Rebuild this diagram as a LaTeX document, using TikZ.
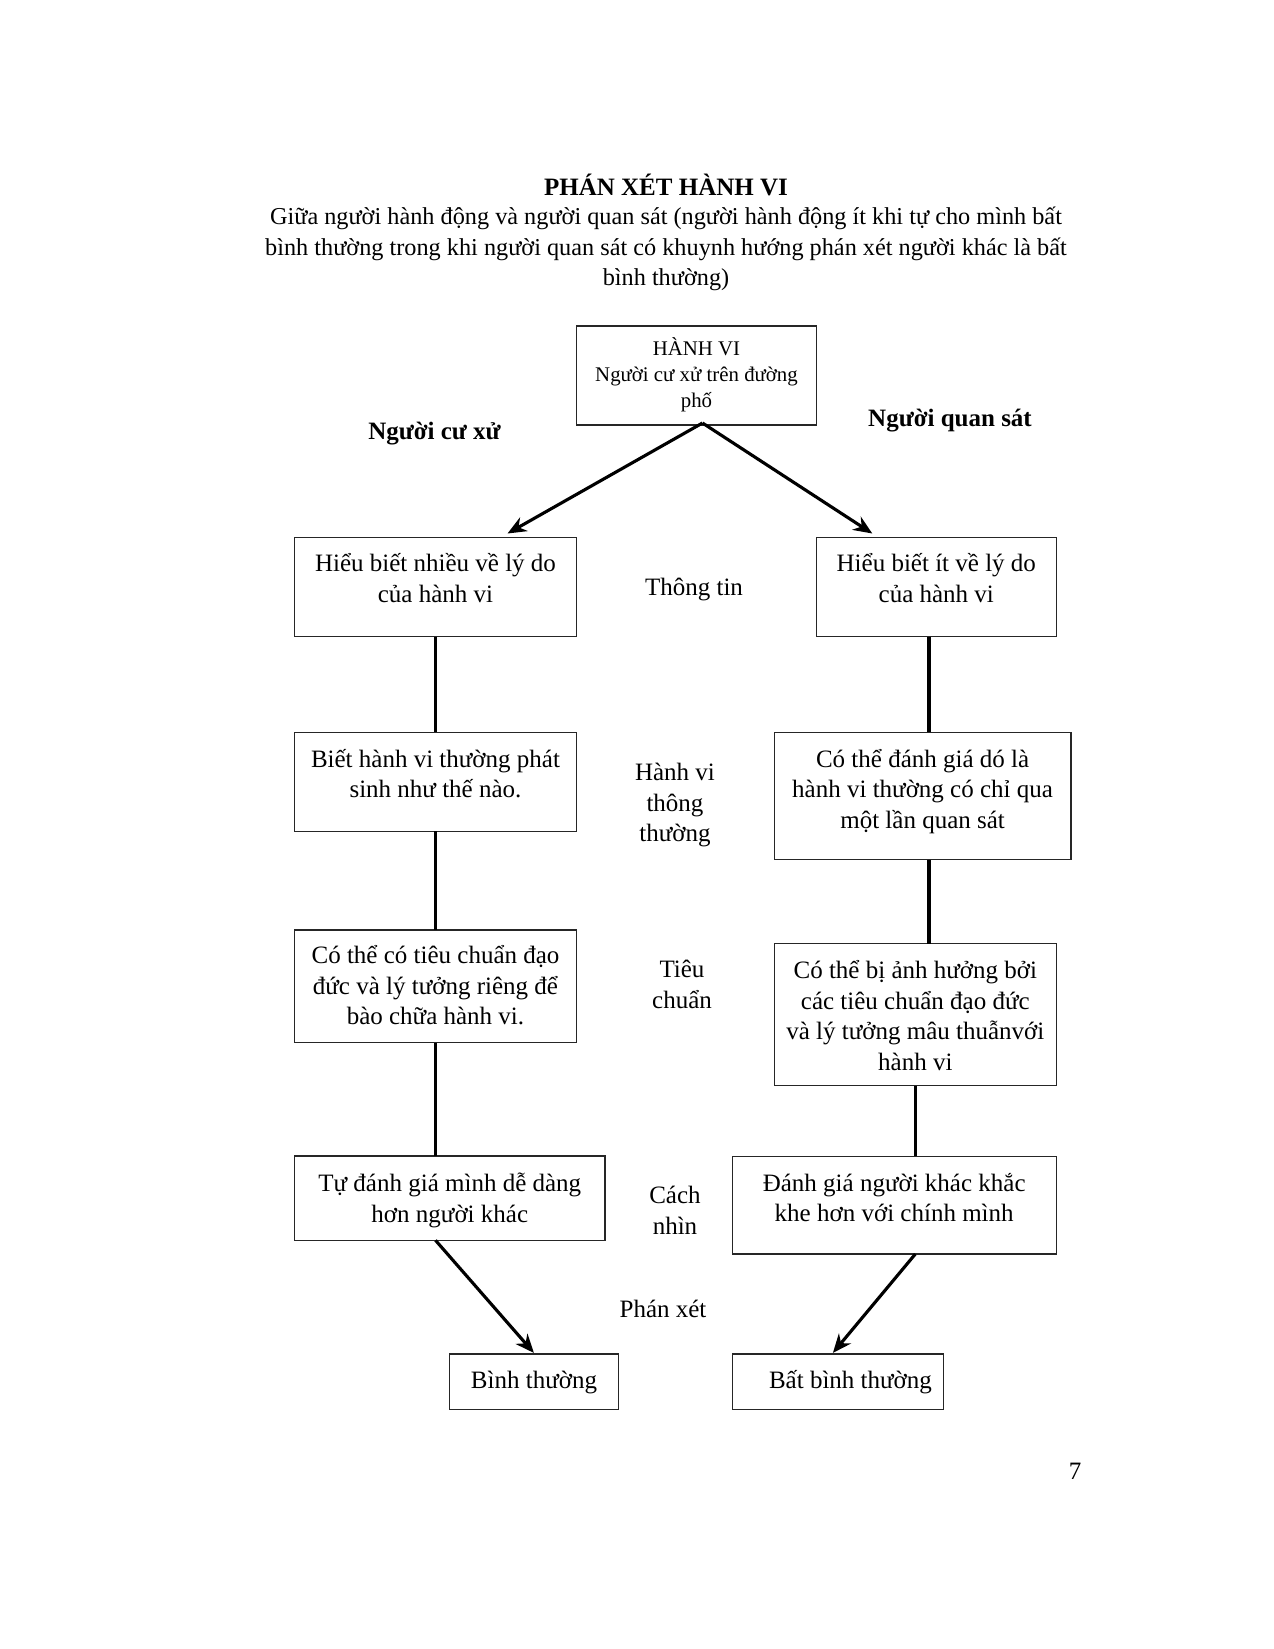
\documentclass[tikz,border=0pt]{standalone}
\usepackage{fontspec}
\setmainfont{Liberation Serif}
\usetikzlibrary{arrows.meta,calc}
\begin{document}
\begin{tikzpicture}[x=0.48pt,y=-0.48pt,
  box/.style={draw=black!85, line width=0.6pt, inner sep=0pt, outer sep=0pt},
  body/.style={font=\fontsize{12}{14.7}\selectfont, align=center, inner sep=0pt, anchor=north, yshift=-3.5pt, execute at begin node={\rule{0pt}{11pt}}},
  smalltxt/.style={font=\fontsize{10}{12.6}\selectfont, align=center, inner sep=0pt, anchor=north, yshift=-1.5pt, execute at begin node={\rule{0pt}{10pt}}},
  lbl/.style={font=\fontsize{12}{14.7}\selectfont, inner sep=0pt},
  conn/.style={line width=1.5pt, black},
  arr/.style={conn, -{Stealth[length=9pt,width=7.5pt]}},
]
\useasboundingbox (0,0) rectangle (1274,1649);

% title
\node[lbl, font=\fontsize{12}{14.7}\selectfont\bfseries] (title) at (666,185) {PHÁN XÉT HÀNH VI};
\node[body, font=\fontsize{11.65}{14.64}\selectfont] (sub) at (666,199.7) {Giữa người hành động và người quan sát (người hành động ít khi tự cho mình bất\\bình thường trong khi người quan sát có khuynh hướng phán xét người khác là bất\\bình thường)};

% boxes
\node[box, minimum width=240*0.48pt, minimum height=99*0.48pt] (T) at (696.5,375.5) {};
\node[smalltxt] (Tt) at (696.5,334) {HÀNH VI\\Người cư xử trên đường\\phố};

\node[box, minimum width=282*0.48pt, minimum height=99*0.48pt] (L1) at (435.5,587) {};
\node[body] (L1t) at (435.5,545.7) {Hiểu biết nhiều về lý do\\của hành vi};
\node[box, minimum width=240*0.48pt, minimum height=99*0.48pt] (R1) at (936.3,587) {};
\node[body] (R1t) at (936.3,545.7) {Hiểu biết ít về lý do\\của hành vi};

\node[box, minimum width=282*0.48pt, minimum height=99*0.48pt] (L2) at (435.5,781.7) {};
\node[body] (L2t) at (435.5,741.2) {Biết hành vi thường phát\\sinh như thế nào.};
\node[box, minimum width=296.6*0.48pt, minimum height=127.3*0.48pt] (R2) at (922.6,795.9) {};
\node[body] (R2t) at (922.6,741.2) {Có thể đánh giá dó là\\hành vi thường có chỉ qua\\một lần quan sát};

\node[box, minimum width=282*0.48pt, minimum height=112.5*0.48pt] (L3) at (435.5,986.3) {};
\node[body] (L3t) at (435.5,937.9) {Có thể có tiêu chuẩn đạo\\đức và lý tưởng riêng để\\bào chữa hành vi.};
\node[box, minimum width=282*0.48pt, minimum height=142.1*0.48pt] (R3) at (915.3,1014.7) {};
\node[body] (R3t) at (915.3,952.7) {Có thể bị ảnh hưởng bởi\\các tiêu chuẩn đạo đức\\và lý tưởng mâu thuẫnvới\\hành vi};

\node[box, minimum width=310.3*0.48pt, minimum height=84.2*0.48pt] (L4) at (449.8,1198.2) {};
\node[body] (L4t) at (449.8,1165.2) {Tự đánh giá mình dễ dàng\\hơn người khác};
\node[box, minimum width=324*0.48pt, minimum height=97.9*0.48pt] (R4) at (894.2,1205.1) {};
\node[body] (R4t) at (894.2,1165.2) {Đánh giá người khác khắc\\khe hơn với chính mình};

\node[box, minimum width=169.4*0.48pt, minimum height=55.8*0.48pt] (B1) at (533.9,1381.8) {};
\node[lbl] (B1t) at (534,1382) {Bình thường};
\node[box, minimum width=211.4*0.48pt, minimum height=55.8*0.48pt] (B2) at (837.9,1381.8) {};
\node[lbl] (B2t) at (850.5,1382) {Bất bình thường};

% side labels
\node[lbl, font=\fontsize{12}{14.7}\selectfont\bfseries] (lc) at (434.5,434) {Người cư xử};
\node[lbl, font=\fontsize{12}{14.7}\selectfont\bfseries] (rc) at (950,420.5) {Người quan sát};

% middle labels
\node[lbl] (m1) at (694,589) {Thông tin};
\node[body] (m2) at (675,755.5) {Hành vi\\thông\\thường};
\node[body] (m3) at (682,952.5) {Tiêu\\chuẩn};
\node[body] (m4) at (675,1178.5) {Cách\\nhìn};
\node[lbl] (m5) at (663,1309) {Phán xét};

\node[lbl] (pg) at (1075,1471) {7};

% connectors
\coordinate (rx) at (929,0);
\draw[arr] ($(T.south)+(6,-2)$) -- ($(L1.north)+(72,-4)$);
\draw[arr] ($(T.south)+(6,-2)$) -- ($(R1.north)+(-64,-4)$);
\draw[conn] (L1.south) -- (L2.north);
\draw[conn] (L2.south) -- (L3.north);
\draw[conn] (L3.south) -- (L4.north -| L3.south);
\draw[conn] (R1.south -| rx) -- (R2.north -| rx);
\draw[conn] (R2.south -| rx) -- (R3.north -| rx);
\draw[conn] (R3.south) -- (R4.north -| R3.south);
\draw[arr] (L4.south -| L3.south) -- ($(B1.north)+(0,-1)$);
\draw[arr] (R4.south -| R3.south) -- ($(B2.north)+(-5,-1)$);
\end{tikzpicture}
\end{document}
